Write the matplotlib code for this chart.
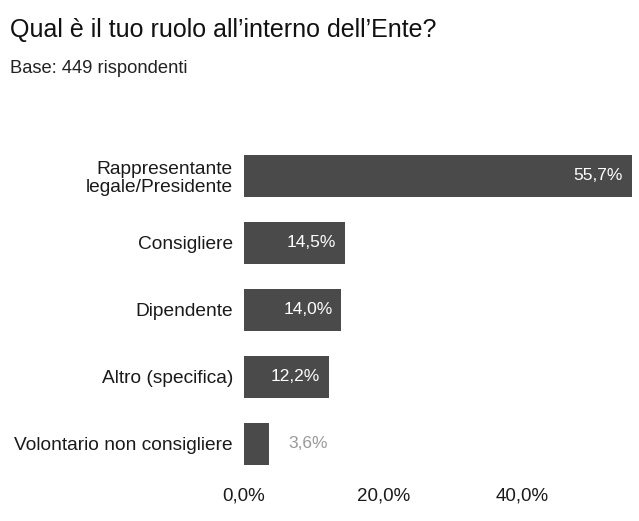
import matplotlib
matplotlib.use("Agg")
import matplotlib.pyplot as plt
from matplotlib.ticker import FuncFormatter

categories = ["Rappresentante\nlegale/Presidente", "Consigliere", "Dipendente",
              "Altro (specifica)", "Volontario non consigliere"]
values = [55.7, 14.5, 14.0, 12.2, 3.6]
xticks = [0, 20, 40]

plt.rcParams['font.family'] = ['Liberation Sans', 'DejaVu Sans']

fig = plt.figure(figsize=(6.39, 5.21), dpi=100)
ax = fig.add_axes([0.382, 0.0835, 0.615, 0.643])

y = list(range(len(categories)))
ax.barh(y, values, height=0.63, color="#4a4a4a")
ax.set_ylim(len(categories) - 0.5, -0.5)
ax.set_xlim(0, 56.5)

ax.set_yticks(y)
ax.set_yticklabels(categories, fontsize=13.8, color="#1a1a1a", linespacing=1.1)
ax.set_xticks(xticks)
ax.xaxis.set_major_formatter(FuncFormatter(lambda v, p: f"{v:.1f}%".replace(".", ",")))
ax.tick_params(axis="x", labelsize=13.5, colors="#1a1a1a", length=0, pad=7)
ax.tick_params(axis="y", length=0, pad=8)
for s in ax.spines.values():
    s.set_visible(False)

for yi, v in zip(y, values):
    txt = f"{v:.1f}%".replace(".", ",")
    if v > 8:
        ax.text(v - 1.3, yi, txt, ha="right", va="center", color="white", fontsize=12.5)
    else:
        ax.text(v + 2.7, yi, txt, ha="left", va="center", color="#999999", fontsize=12.5)

fig.text(0.016, 0.942, "Qual è il tuo ruolo all\u2019interno dell\u2019Ente?", fontsize=18, color="#111111", va="center")
fig.text(0.016, 0.869, "Base: 449 rispondenti", fontsize=13.2, color="#222222", va="center")

fig.savefig("out.png", dpi=100)
